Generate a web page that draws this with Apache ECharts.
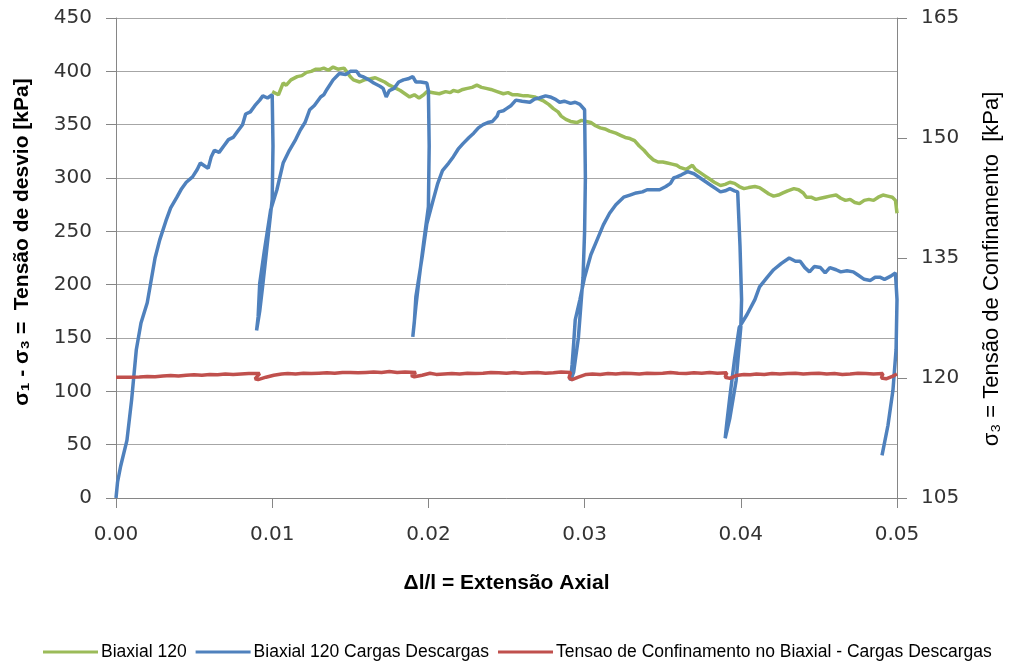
<!DOCTYPE html>
<html>
<head>
<meta charset="utf-8">
<script src="https://cdn.jsdelivr.net/npm/echarts@6/dist/echarts.min.js"></script>
<style>
  html, body { margin: 0; padding: 0; background: #ffffff; }
  #chart { width: 1010px; height: 666px; }
</style>
</head>
<body>
<div id="chart"></div>
<script>
// Axis ticks
const xTicks = [0, 0.01, 0.02, 0.03, 0.04, 0.05];
const leftTicks = [0, 50, 100, 150, 200, 250, 300, 350, 400, 450];
const rightTicks = [105, 120, 135, 150, 165];

const seriesNames = [
  'Biaxial 120',
  'Biaxial 120 Cargas Descargas',
  'Tensao de Confinamento no Biaxial - Cargas Descargas'
];

// Monotonic test: [axial strain, deviator stress kPa]
const biaxial120 = [
  [0.0100,381],[0.0104,378],[0.0107,389],[0.0109,387],[0.0112,392],[0.0116,395],[0.0119,396],
  [0.0122,399],[0.0125,400],[0.0128,402],[0.0131,402],[0.0133,403],[0.0136,401],[0.0139,404],
  [0.0142,402],[0.0146,403],[0.0148,399],[0.0150,395],[0.0152,392],[0.0156,390],[0.0159,392],
  [0.0163,393],[0.0166,394],[0.0169,392],[0.0172,390],[0.0175,387],[0.0178,385],[0.0182,382],
  [0.0185,379],[0.0188,376],[0.0191,378],[0.0194,375],[0.0197,378],[0.0199,381],[0.0203,380],
  [0.0207,379],[0.0211,381],[0.0214,380],[0.0216,382],[0.0219,381],[0.0222,383],[0.0225,384],
  [0.0228,385],[0.0231,387],[0.0234,385],[0.0237,384],[0.0240,383],[0.0244,381],[0.0248,379],
  [0.0251,380],[0.0254,378],[0.0257,378],[0.0261,377],[0.0264,377],[0.0268,376],[0.0271,374],
  [0.0274,372],[0.0277,369],[0.0280,365],[0.0283,362],[0.0285,358],[0.0288,355],[0.0291,353],
  [0.0295,352],[0.0298,354],[0.0301,353],[0.0304,352],[0.0307,349],[0.0310,347],[0.0313,346],
  [0.0316,344],[0.0320,342],[0.0323,340],[0.0326,338],[0.0329,337],[0.0332,335],[0.0335,330],
  [0.0338,326],[0.0341,321],[0.0344,317],[0.0347,315],[0.0350,315],[0.0353,314],[0.0356,313],
  [0.0359,312],[0.0361,310],[0.0365,308],[0.0369,312],[0.0371,308],[0.0374,305],[0.0377,302],
  [0.0380,299],[0.0383,296],[0.0387,293],[0.0390,294],[0.0393,296],[0.0396,295],[0.0399,292],
  [0.0402,290],[0.0405,291],[0.0409,292],[0.0412,291],[0.0415,288],[0.0418,285],[0.0421,283],
  [0.0424,284],[0.0427,286],[0.0430,288],[0.0434,290],[0.0437,289],[0.0440,286],[0.0442,282],
  [0.0445,282],[0.0448,280],[0.0451,281],[0.0454,282],[0.0457,283],[0.0461,284],[0.0464,281],
  [0.0467,279],[0.0470,280],[0.0473,277],[0.0476,276],[0.0479,279],[0.0482,280],[0.0485,279],
  [0.0488,282],[0.0491,284],[0.0494,283],[0.0497,282],[0.0499,279],[0.0500,267]
];

// Loading / unloading cycles: [axial strain, deviator stress kPa]
const biaxial120Ciclos = [
  // first loading
  [0,0],[0.0001,15],[0.0003,30],[0.0007,54],[0.0010,92],[0.0013,139],[0.0016,164],[0.0020,183],
  [0.0025,225],[0.0028,242],[0.0032,260],[0.0035,272],[0.0039,282],[0.0042,290],[0.0045,296],
  [0.0049,301],[0.0052,308],[0.0054,314],[0.0057,311],[0.0059,309],[0.0061,320],[0.0063,326],
  [0.0066,324],[0.0069,330],[0.0072,336],[0.0075,338],[0.0078,344],[0.0081,350],[0.0083,360],
  [0.0086,362],[0.0089,368],[0.0092,373],[0.0094,377],[0.0097,375],[0.0100,378],
  // unloading 1
  [0.01005,330],[0.0100,280],[0.0097,240],[0.0094,200],[0.0092,175],[0.0090,157],
  // reloading 1
  [0.0091,170],[0.0092,201],[0.0095,232],[0.0099,270],[0.0103,289],[0.0107,314],[0.0111,326],
  [0.0115,336],[0.0118,345],[0.0121,352],[0.0124,364],[0.0127,368],[0.0131,376],[0.0133,378],
  [0.0135,383],[0.0139,392],[0.0143,398],[0.0147,397],[0.0150,400],[0.0154,400],[0.0156,396],
  [0.0158,395],[0.0162,392],[0.0165,389],[0.0169,386],[0.0171,384],[0.0173,376],[0.0175,382],
  [0.0178,384],[0.0181,390],[0.0184,392],[0.0187,393],[0.0190,395],[0.0192,390],[0.0195,390],
  [0.0199,389],[0.0200,382],
  // unloading 2
  [0.02005,330],[0.0200,273],[0.0197,240],[0.0194,205],[0.0192,180],[0.0190,151],
  // reloading 2
  [0.0191,165],[0.0192,189],[0.0196,226],[0.0199,257],[0.0203,279],[0.0206,295],[0.0209,307],
  [0.0213,314],[0.0216,320],[0.0219,327],[0.0222,332],[0.0226,338],[0.0229,342],[0.0232,347],
  [0.0235,350],[0.0238,352],[0.0241,353],[0.0244,358],[0.0245,362],[0.0248,363],[0.0250,365],
  [0.0253,368],[0.0256,373],[0.0260,372],[0.0265,371],[0.0268,374],[0.0271,375],[0.0275,377],
  [0.0278,376],[0.0281,374],[0.0284,371],[0.0287,372],[0.0291,370],[0.0294,371],[0.0297,369],
  [0.0300,364],
  // unloading 3
  [0.03005,300],[0.0300,250],[0.0299,207],[0.0296,150],[0.0293,118],[0.0291,110],
  // reloading 3
  [0.0292,125],[0.0293,145],[0.0294,167],[0.0297,186],[0.0300,207],[0.0304,228],[0.0308,242],
  [0.0312,256],[0.0316,267],[0.0320,275],[0.0325,282],[0.0329,284],[0.0333,286],[0.0337,287],
  [0.0340,289],[0.0344,289],[0.0348,289],[0.0352,292],[0.0355,295],[0.0357,300],[0.0359,301],
  [0.0362,303],[0.0366,306],[0.0370,304],[0.0374,300],[0.0378,296],[0.0381,293],[0.0384,290],
  [0.0387,287],[0.0390,288],[0.0393,290],[0.0396,288],[0.0398,287],
  // unloading 4
  [0.03995,236],[0.04005,186],[0.0400,160],[0.0397,110],[0.0393,75],[0.0390,56],
  // reloading 4
  [0.0391,70],[0.0393,95],[0.0396,130],[0.0399,160],[0.0404,172],[0.0409,186],[0.0412,198],
  [0.0417,207],[0.0421,214],[0.0426,220],[0.0431,225],[0.0435,222],[0.0438,222],[0.0441,216],
  [0.0444,212],[0.0447,217],[0.0451,216],[0.0454,211],[0.0457,216],[0.0461,214],[0.0464,212],
  [0.0468,213],[0.0472,212],[0.0475,209],[0.0479,205],[0.0483,204],[0.0486,207],[0.0489,207],
  [0.0492,205],[0.0496,208],[0.0499,211],[0.0500,210],
  // unloading 5
  [0.0500,186],[0.04994,139],[0.04974,101],[0.04942,68],[0.04904,40]
];

// Confining pressure during the cycles: [axial strain, sigma3 kPa]
const confinamento = [
  [0,120.1],[0.0008,120.1],[0.0015,120.12],[0.0020,120.2],[0.0025,120.15],[0.0030,120.25],
  [0.0035,120.3],[0.0040,120.25],[0.0045,120.35],[0.0050,120.4],[0.0055,120.35],[0.0060,120.45],
  [0.0065,120.4],[0.0070,120.5],[0.0075,120.45],[0.0080,120.5],[0.0085,120.55],[0.0092,120.55],
  [0.0089,119.9],[0.0091,119.8],[0.0096,120.1],[0.0101,120.35],[0.0106,120.5],[0.0110,120.55],
  [0.0115,120.5],[0.0120,120.6],[0.0125,120.55],[0.0130,120.6],[0.0135,120.65],[0.0140,120.6],
  [0.0145,120.7],[0.0150,120.7],[0.0155,120.65],[0.0160,120.7],[0.0165,120.75],[0.0170,120.7],
  [0.0175,120.8],[0.0180,120.7],[0.0185,120.75],[0.0192,120.7],[0.0189,120.3],[0.0191,120.15],
  [0.0196,120.35],[0.0201,120.6],[0.0205,120.45],[0.0210,120.5],[0.0215,120.55],[0.0220,120.5],
  [0.0225,120.6],[0.0230,120.55],[0.0235,120.6],[0.0240,120.7],[0.0245,120.65],[0.0250,120.6],
  [0.0255,120.7],[0.0260,120.6],[0.0265,120.65],[0.0270,120.7],[0.0275,120.6],[0.0280,120.65],
  [0.0285,120.75],[0.0291,120.7],[0.0290,120.0],[0.0292,119.8],[0.0296,120.1],[0.0301,120.45],
  [0.0305,120.5],[0.0310,120.45],[0.0315,120.55],[0.0320,120.5],[0.0325,120.6],[0.0330,120.55],
  [0.0335,120.5],[0.0340,120.6],[0.0345,120.55],[0.0350,120.6],[0.0355,120.7],[0.0360,120.6],
  [0.0365,120.55],[0.0370,120.65],[0.0375,120.6],[0.0380,120.7],[0.0385,120.6],[0.0391,120.65],
  [0.0390,120.1],[0.0393,119.95],[0.0397,120.3],[0.0402,120.45],[0.0406,120.4],[0.0410,120.5],
  [0.0415,120.45],[0.0420,120.55],[0.0425,120.5],[0.0430,120.55],[0.0435,120.6],[0.0440,120.5],
  [0.0445,120.55],[0.0450,120.6],[0.0455,120.5],[0.0460,120.55],[0.0465,120.45],[0.0470,120.5],
  [0.0475,120.6],[0.0480,120.55],[0.0485,120.5],[0.0491,120.55],[0.0490,120.0],[0.0493,119.9],
  [0.0497,120.2],[0.0500,120.5]
];

const greenColor = '#9bbb59';
const blueColor = '#4f81bd';
const redColor = '#c0504d';
const axisColor = '#868686';
const gridColor = '#a6a6a6';
const textColor = '#333333';
const tickFont = 'DejaVu Sans';
const titleFont = 'Liberation Sans, Arial, sans-serif';

const chart = echarts.init(document.getElementById('chart'));

chart.setOption({
  animation: false,
  backgroundColor: '#ffffff',
  grid: { left: 116, right: 113, top: 18, bottom: 168, containLabel: false },
  xAxis: {
    type: 'value',
    min: xTicks[0],
    max: xTicks[xTicks.length - 1],
    interval: xTicks[1] - xTicks[0],
    axisLine: { show: true, lineStyle: { color: axisColor, width: 1 } },
    axisTick: { show: true, length: 10, lineStyle: { color: axisColor } },
    splitLine: { show: false },
    axisLabel: {
      margin: 27, color: textColor, fontFamily: tickFont, fontSize: 20,
      formatter: v => v.toFixed(2)
    },
    name: 'Δl/l = Extensão Axial',
    nameLocation: 'middle',
    nameGap: 75,
    nameTextStyle: { fontFamily: titleFont, fontWeight: 'bold', fontSize: 21, color: '#000000' }
  },
  yAxis: [
    {
      type: 'value',
      position: 'left',
      min: leftTicks[0],
      max: leftTicks[leftTicks.length - 1],
      interval: leftTicks[1] - leftTicks[0],
      axisLine: { show: true, lineStyle: { color: axisColor, width: 1 } },
      axisTick: { show: true, length: 10, lineStyle: { color: axisColor } },
      splitLine: { show: true, lineStyle: { color: gridColor, width: 1 } },
      axisLabel: { margin: 24, color: textColor, fontFamily: tickFont, fontSize: 20 }
    },
    {
      type: 'value',
      position: 'right',
      min: rightTicks[0],
      max: rightTicks[rightTicks.length - 1],
      interval: rightTicks[1] - rightTicks[0],
      axisLine: { show: true, lineStyle: { color: axisColor, width: 1 } },
      axisTick: { show: true, length: 10, lineStyle: { color: axisColor } },
      splitLine: { show: false },
      axisLabel: { margin: 24, color: textColor, fontFamily: tickFont, fontSize: 20 }
    }
  ],
  legend: {
    left: 38,
    top: 638,
    icon: 'rect',
    itemWidth: 55,
    itemHeight: 3,
    itemGap: 9,
    textStyle: { fontFamily: titleFont, fontSize: 17.5, color: '#000000', padding: [0, 0, 0, -2] },
    data: seriesNames
  },
  graphic: [
    {
      type: 'text',
      x: 22, y: 242,
      rotation: Math.PI / 2,
      style: {
        text: 'σ₁ - σ₃ =  Tensão de desvio [kPa]',
        font: 'bold 21px Liberation Sans, Arial, sans-serif',
        fill: '#000000',
        align: 'center',
        verticalAlign: 'middle'
      }
    },
    {
      type: 'text',
      x: 992, y: 269,
      rotation: Math.PI / 2,
      style: {
        text: 'σ₃ = Tensão de Confinamento  [kPa]',
        font: '22px Liberation Sans, Arial, sans-serif',
        fill: '#000000',
        align: 'center',
        verticalAlign: 'middle'
      }
    }
  ],
  series: [
    {
      name: seriesNames[0],
      type: 'line',
      yAxisIndex: 0,
      data: biaxial120,
      symbol: 'none',
      showSymbol: false,
      lineStyle: { color: greenColor, width: 3.5 },
      itemStyle: { color: greenColor },
      z: 2
    },
    {
      name: seriesNames[1],
      type: 'line',
      yAxisIndex: 0,
      data: biaxial120Ciclos,
      symbol: 'none',
      showSymbol: false,
      lineStyle: { color: blueColor, width: 3.5 },
      itemStyle: { color: blueColor },
      z: 3
    },
    {
      name: seriesNames[2],
      type: 'line',
      yAxisIndex: 1,
      data: confinamento,
      symbol: 'none',
      showSymbol: false,
      lineStyle: { color: redColor, width: 3.5 },
      itemStyle: { color: redColor },
      z: 4
    }
  ]
});
</script>
</body>
</html>
